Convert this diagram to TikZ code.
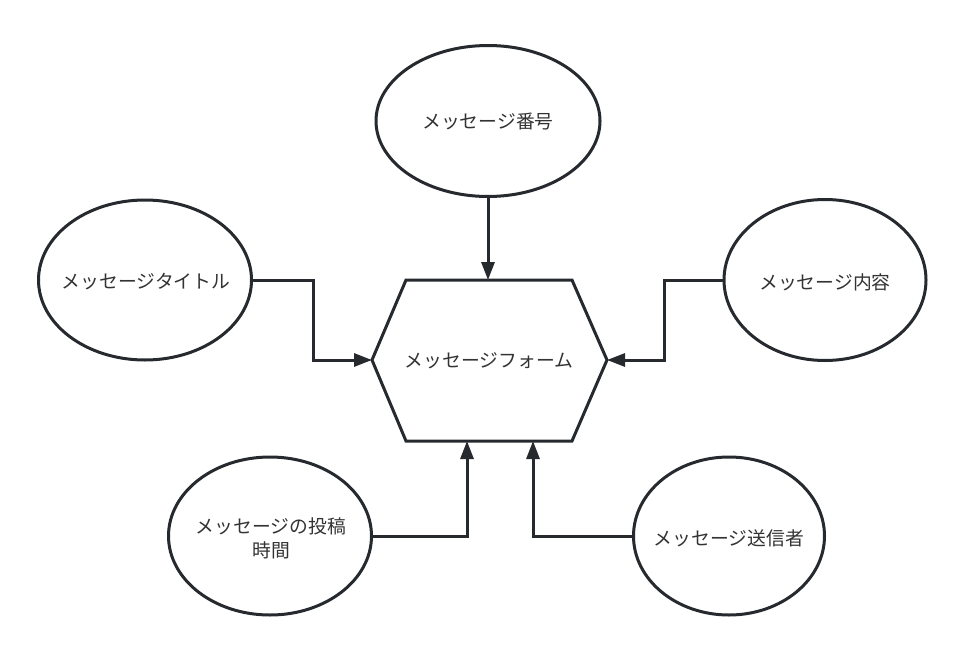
\documentclass[tikz,border=0pt]{standalone}
\usepackage{fontspec}
\setmainfont{Noto Sans CJK JP}
\usetikzlibrary{shapes.geometric,arrows.meta}
\definecolor{ink}{HTML}{262A2E}
\definecolor{txt}{HTML}{333333}
\tikzset{
  attr/.style={ellipse, draw=ink, line width=3pt, fill=white, inner sep=0pt},
  lbl/.style={text=txt, font=\fontsize{18.8}{24}\selectfont, align=center, inner sep=0pt},
  conn/.style={draw=ink, line width=3pt, rounded corners=0pt,
               -{Triangle[length=18pt,width=13pt]}},
  hexline/.style={draw=ink, line width=3pt, line join=miter, fill=white}
}
\begin{document}
\begin{tikzpicture}[x=1pt,y=-1pt]
\useasboundingbox[fill=white] (0,0) rectangle (966,653);
% hexagon
\coordinate (hTL) at (406,280);
\coordinate (hTR) at (572,280);
\coordinate (hR)  at (607,360);
\coordinate (hBR) at (572,441);
\coordinate (hBL) at (406,441);
\coordinate (hL)  at (372,360);
\coordinate (hT)  at (488,280);
\coordinate (hB1) at (467,441);
\coordinate (hB2) at (533,441);
\path[hexline] (hTL) -- (hTR) -- (hR) -- (hBR) -- (hBL) -- (hL) -- cycle;
\node[lbl] (form) at (489,361) {メッセージフォーム};
% attributes
\node[attr, minimum width=224pt, minimum height=151pt] (num) at (488,121) {};
\node[lbl] (numT) at (num.center) {メッセージ番号};
\node[attr, minimum width=213pt, minimum height=160pt] (title) at (145,280) {};
\node[lbl] (titleT) at (146,282) {メッセージタイトル};
\node[attr, minimum width=202pt, minimum height=161pt] (content) at (825,280) {};
\node[lbl] (contentT) at (825,282) {メッセージ内容};
\node[attr, minimum width=203pt, minimum height=158pt] (time) at (270,536) {};
\node[lbl] (timeT) at (271,538) {メッセージの投稿\\時間};
\node[attr, minimum width=191pt, minimum height=158pt] (sender) at (729,536) {};
\node[lbl] (senderT) at (729,538) {メッセージ送信者};
% connectors
\draw[conn] (num.south) -- (hT);
\draw[conn] (title.east) -- (313,280) -- (313,360) -- (hL);
\draw[conn] (content.west) -- (664,280) -- (664,360) -- (hR);
\draw[conn] (time.east) -- (467,536) -- (hB1);
\draw[conn] (sender.west) -- (533,536) -- (hB2);
\end{tikzpicture}
\end{document}
